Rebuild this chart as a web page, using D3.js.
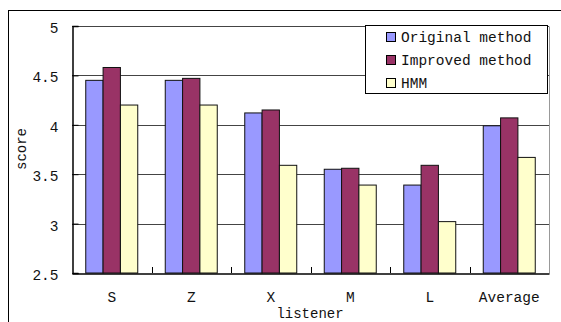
<!DOCTYPE html>
<html>
<head>
<meta charset="utf-8">
<script src="https://cdn.jsdelivr.net/npm/d3@7"></script>
<style>
  body { margin: 0; background: #fff; }
  text { font-family: "Liberation Mono", "DejaVu Sans Mono", monospace; fill: #111; }
</style>
</head>
<body>
<div class="chart"></div>
<script>
// data
const listeners = ["S", "Z", "X", "M", "L", "Average"];
const seriesNames = ["Original method", "Improved method", "HMM"];
const original = [4.45, 4.45, 4.12, 3.55, 3.39, 3.99];
const improved = [4.58, 4.47, 4.15, 3.56, 3.59, 4.07];
const hmm = [4.20, 4.20, 3.59, 3.39, 3.02, 3.67];
const yTicks = [2.5, 3, 3.5, 4, 4.5, 5];
const colors = ["#9999FF", "#993366", "#FFFFCC"];

const W = 561, H = 322;
const margin = ({top: 26, right: 12, bottom: 49, left: 72});
const width = W - margin.left - margin.right;
const height = H - margin.top - margin.bottom;

var svg = d3.select(".chart")
    .append("svg")
    .attr("width", W)
    .attr("height", H);

// outer chart border (runs off the right and bottom edge)
svg.append("rect")
    .attr("x", 8.5).attr("y", 10.5)
    .attr("width", 600).attr("height", 400)
    .attr("fill", "none")
    .attr("stroke", "#000");

var g = svg.append("g")
    .attr("transform", "translate(" + margin.left + "," + margin.top + ")");

var x0 = d3.scaleBand()
    .domain(listeners)
    .range([0, width])
    .padding(0);

var groupW = 52;
var x1 = d3.scaleBand()
    .domain(seriesNames)
    .range([(x0.bandwidth() - groupW) / 2, (x0.bandwidth() + groupW) / 2]);

var y = d3.scaleLinear()
    .domain([2.5, 5])
    .range([height, 0]);

var py = v => Math.round(y(v)) + 0.5;

// grid lines
g.selectAll(".grid")
    .data(yTicks.filter(d => d > 2.5))
    .enter()
    .append("line")
    .attr("x1", 0).attr("x2", width)
    .attr("y1", d => py(d)).attr("y2", d => py(d))
    .attr("stroke", "#444")
    .attr("stroke-width", 1);

// right border of plot
g.append("line")
    .attr("x1", width + 0.5).attr("x2", width + 0.5)
    .attr("y1", py(5)).attr("y2", py(2.5))
    .attr("stroke", "#999");

// bars
const rows = listeners.map((l, i) => ({
    listener: l,
    values: [original[i], improved[i], hmm[i]]
}));

var groups = g.selectAll(".grp")
    .data(rows)
    .enter()
    .append("g")
    .attr("transform", d => "translate(" + x0(d.listener) + ",0)");

groups.selectAll("rect")
    .data(d => d.values.map((v, j) => ({name: seriesNames[j], value: v, j: j})))
    .enter()
    .append("rect")
    .attr("x", d => x1(d.name))
    .attr("y", d => y(d.value))
    .attr("width", x1.bandwidth())
    .attr("height", d => height - y(d.value))
    .attr("fill", d => colors[d.j])
    .attr("stroke", "#111")
    .attr("stroke-width", 1);

// y axis
const yAxis = d3.axisLeft(y)
    .tickValues(yTicks)
    .tickSize(-6)
    .tickPadding(14)
    .tickFormat(d3.format(".2~f"));

var yAxisDisplay = g.append("g")
    .attr("class", "axis y-axis")
    .attr("transform", "translate(0.5,0)")
    .call(yAxis);
yAxisDisplay.select(".domain").attr("stroke", "#000").attr("stroke-width", 1.5);
yAxisDisplay.selectAll(".tick line").attr("stroke", "#000");
yAxisDisplay.selectAll("text")
    .attr("font-size", 14.5)
    .attr("font-family", "Liberation Mono")
    .attr("dy", "0.45em");

// x axis
const xAxis = d3.axisBottom(x0).tickSize(0).tickPadding(18);
var xAxisDisplay = g.append("g")
    .attr("class", "axis x-axis")
    .attr("transform", "translate(0," + (height + 0.5) + ")")
    .call(xAxis);
xAxisDisplay.select(".domain").attr("stroke", "#000").attr("stroke-width", 1.5);
xAxisDisplay.selectAll("text")
    .attr("font-size", 14.5)
    .attr("font-family", "Liberation Mono");

// small upward ticks at band boundaries
g.selectAll(".xtick")
    .data(listeners.slice(1))
    .enter()
    .append("line")
    .attr("x1", d => Math.round(x0(d)) + 0.5)
    .attr("x2", d => Math.round(x0(d)) + 0.5)
    .attr("y1", height).attr("y2", height - 6)
    .attr("stroke", "#000");

// axis titles
svg.append("text")
    .attr("x", 310).attr("y", 318)
    .attr("text-anchor", "middle")
    .attr("font-size", 14)
    .text("listener");

svg.append("text")
    .attr("transform", "translate(26,149) rotate(-90)")
    .attr("text-anchor", "middle")
    .attr("font-size", 14)
    .text("score");

// legend
var legend = svg.append("g");
legend.append("rect")
    .attr("x", 365.5).attr("y", 25.5)
    .attr("width", 182).attr("height", 68)
    .attr("fill", "#fff")
    .attr("stroke", "#000");

var items = legend.selectAll(".item")
    .data(seriesNames)
    .enter()
    .append("g")
    .attr("transform", (d, i) => "translate(0," + (37 + i * 23) + ")");

items.append("rect")
    .attr("x", 386.5).attr("y", -4.5)
    .attr("width", 9).attr("height", 9)
    .attr("fill", (d, i) => colors[i])
    .attr("stroke", "#000");

items.append("text")
    .attr("x", 401).attr("y", 0)
    .attr("dy", "0.35em")
    .attr("font-size", 14.5)
    .text(d => d);
</script>
</body>
</html>
